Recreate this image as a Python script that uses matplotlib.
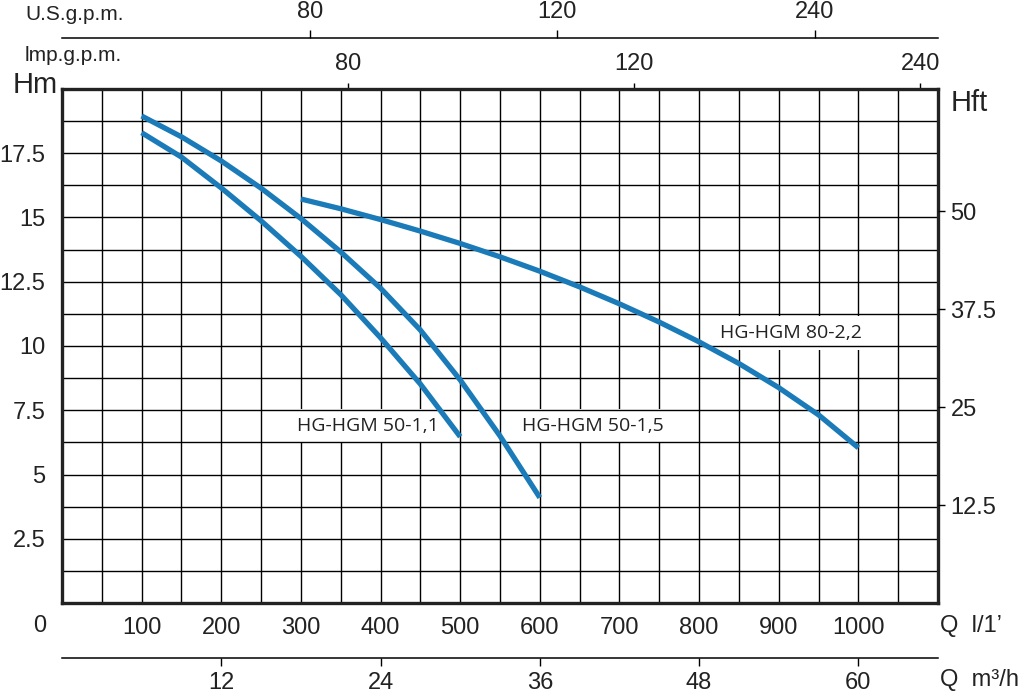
import matplotlib
matplotlib.use("Agg")
import matplotlib.pyplot as plt
from matplotlib import font_manager as fm

# ---------------- data ----------------
q_11 = [100, 150, 200, 250, 300, 350, 400, 450, 500]
h_11 = [18.3, 17.35, 16.15, 14.87, 13.49, 12.0, 10.32, 8.52, 6.47]

q_15 = [100, 150, 200, 250, 300, 350, 400, 450, 500, 550, 600]
h_15 = [18.95, 18.14, 17.2, 16.14, 14.96, 13.66, 12.25, 10.62, 8.68, 6.5, 4.1]

q_22 = [300, 350, 400, 450, 500, 550, 600, 650, 700, 750, 800, 850, 900, 950, 1000]
h_22 = [15.72, 15.34, 14.92, 14.47, 13.99, 13.47, 12.91, 12.30, 11.64, 10.93, 10.16, 9.32, 8.38, 7.32, 6.04]

names = ["HG-HGM 50-1,1", "HG-HGM 50-1,5", "HG-HGM 80-2,2"]
label_pos = [(368, 426), (593, 426), (791, 333)]  # label centres (pixel positions in figure)

q_ticks = [100, 200, 300, 400, 500, 600, 700, 800, 900, 1000]
h_ticks = [2.5, 5, 7.5, 10, 12.5, 15, 17.5]
hft_ticks = [12.5, 25, 37.5, 50]
hft_labels = ["12.5", "25", "37.5", "50"]
m3h_labels = ["12", "24", "36", "48", "60"]
m3h_vals = [12, 24, 36, 48, 60]
imp_labels = ["80", "120", "240"]
imp_pos = [359, 718, 1078]   # printed positions on the l/min scale
us_labels = ["80", "120", "240"]
us_pos = [311, 621, 945]

FT_PER_M = 3.2808

# ---------------- fonts ----------------
def pick(cands):
    for n, key in cands:
        try:
            f = fm.findfont(fm.FontProperties(family=n), fallback_to_default=False)
            if key is None or key.lower() in f.lower():
                return n
        except Exception:
            pass
    return "DejaVu Sans"

NUM = pick([("Liberation Sans Narrow", "narrow"), ("Liberation Sans", None), ("DejaVu Sans", None)])
LAB = pick([("Open Sans", None), ("Noto Sans", None), ("DejaVu Sans", None)])

W, H = 1022, 700
fig = plt.figure(figsize=(W / 100, H / 100), dpi=100)

def fx(px):
    return px / W

def fy(py):
    return 1 - py / H

L, R, T, B = 62, 938, 89, 603
ax = fig.add_axes([fx(L), fy(B), fx(R - L), (B - T) / H])
ax.set_xlim(0, 1100)
ax.set_ylim(0, 20)

BLUE = "#1a7bb8"
TC = "#222222"
# grid: vertical lines below the label boxes, horizontal lines above them
for x in range(50, 1100, 50):
    ax.axvline(x, color="black", lw=1.0, zorder=1)
for i in range(1, 16):
    ax.axhline(i * 1.25, color="black", lw=1.0, zorder=2.5)

for q, h in [(q_11, h_11), (q_15, h_15), (q_22, h_22)]:
    ax.plot(q, h, color=BLUE, lw=3.8, solid_capstyle="butt", solid_joinstyle="round", zorder=3)

for name, (px, py) in zip(names, label_pos):
    ax.text(fx(px), fy(py), name, transform=fig.transFigure, ha="center", va="center",
            fontsize=14, family=LAB, color=TC, zorder=2,
            bbox=dict(facecolor="white", edgecolor="none", pad=6))

for s in ax.spines.values():
    s.set_linewidth(2.4)
    s.set_color(TC)
    s.set_zorder(4)

ax.set_xticks(q_ticks)
ax.set_xticklabels([str(v) for v in q_ticks])
ax.set_yticks(h_ticks)
ax.set_yticklabels([("%g" % v) for v in h_ticks])
ax.tick_params(axis="x", length=0, pad=10, labelsize=17)
ax.tick_params(axis="y", length=0, pad=12, labelsize=17)
for lab in ax.get_xticklabels() + ax.get_yticklabels():
    lab.set_family(NUM)
    lab.set_color(TC)

# right Hft axis
axr = ax.twinx()
axr.set_ylim(0, 20 * FT_PER_M)
axr.set_yticks(hft_ticks)
axr.set_yticklabels(hft_labels)
axr.tick_params(axis="y", direction="out", length=5, width=1.0, pad=4, labelsize=17)
for lab in axr.get_yticklabels():
    lab.set_family(NUM)
    lab.set_color(TC)
for s in axr.spines.values():
    s.set_visible(False)

# Imp gpm on top of main axes
axt = ax.secondary_xaxis("top")
axt.set_xticks(imp_pos)
axt.set_xticklabels(imp_labels)
axt.tick_params(axis="x", direction="out", length=4.5, width=1.0, pad=5.5, labelsize=17)
for lab in axt.get_xticklabels():
    lab.set_family(NUM)
    lab.set_color(TC)
axt.spines["top"].set_visible(False)

# US gpm line
axu = fig.add_axes([fx(L), fy(38), fx(R - L), 0.0001])
axu.set_xlim(0, 1100)
axu.set_yticks([])
for k in ["left", "right", "bottom"]:
    axu.spines[k].set_visible(False)
axu.spines["top"].set_linewidth(1.1)
axu.xaxis.set_ticks_position("top")
axu.xaxis.set_label_position("top")
axu.set_xticks(us_pos)
axu.set_xticklabels(us_labels)
axu.tick_params(axis="x", direction="out", length=6, width=1.0, pad=5, labelsize=17)
for lab in axu.get_xticklabels():
    lab.set_family(NUM)
    lab.set_color(TC)
axu.patch.set_visible(False)

# m3/h line
axm = fig.add_axes([fx(L), fy(658), fx(R - L), 0.0001])
axm.set_xlim(0, 1100 * 60 / 1000)
axm.set_yticks([])
for k in ["left", "right", "top"]:
    axm.spines[k].set_visible(False)
axm.spines["bottom"].set_linewidth(1.1)
axm.set_xticks(m3h_vals)
axm.set_xticklabels(m3h_labels)
axm.tick_params(axis="x", direction="out", length=6, width=1.0, pad=4, labelsize=17)
for lab in axm.get_xticklabels():
    lab.set_family(NUM)
    lab.set_color(TC)
axm.patch.set_visible(False)

# axis titles
fig.text(fx(25), fy(14), "U.S.g.p.m.", ha="left", va="center", fontsize=15, family=NUM, color=TC)
fig.text(fx(25), fy(61), "lmp.g.p.m.", ha="left", va="baseline", fontsize=15, family=NUM, color=TC)
fig.text(fx(35), fy(85), "Hm", ha="center", va="center", fontsize=21, family=NUM, color=TC)
fig.text(fx(951), fy(103), "Hft", ha="left", va="center", fontsize=21, family=NUM, color=TC)
fig.text(fx(40), fy(626), "0", ha="center", va="center", fontsize=17, family=NUM, color=TC)
fig.text(fx(940), fy(626), "Q  l/1\u2019", ha="left", va="center", fontsize=17, family=NUM, color=TC)
fig.text(fx(940), fy(680), "Q  m\u00b3/h", ha="left", va="center", fontsize=17, family=NUM, color=TC)

fig.savefig("out.png", dpi=100, facecolor="white")
